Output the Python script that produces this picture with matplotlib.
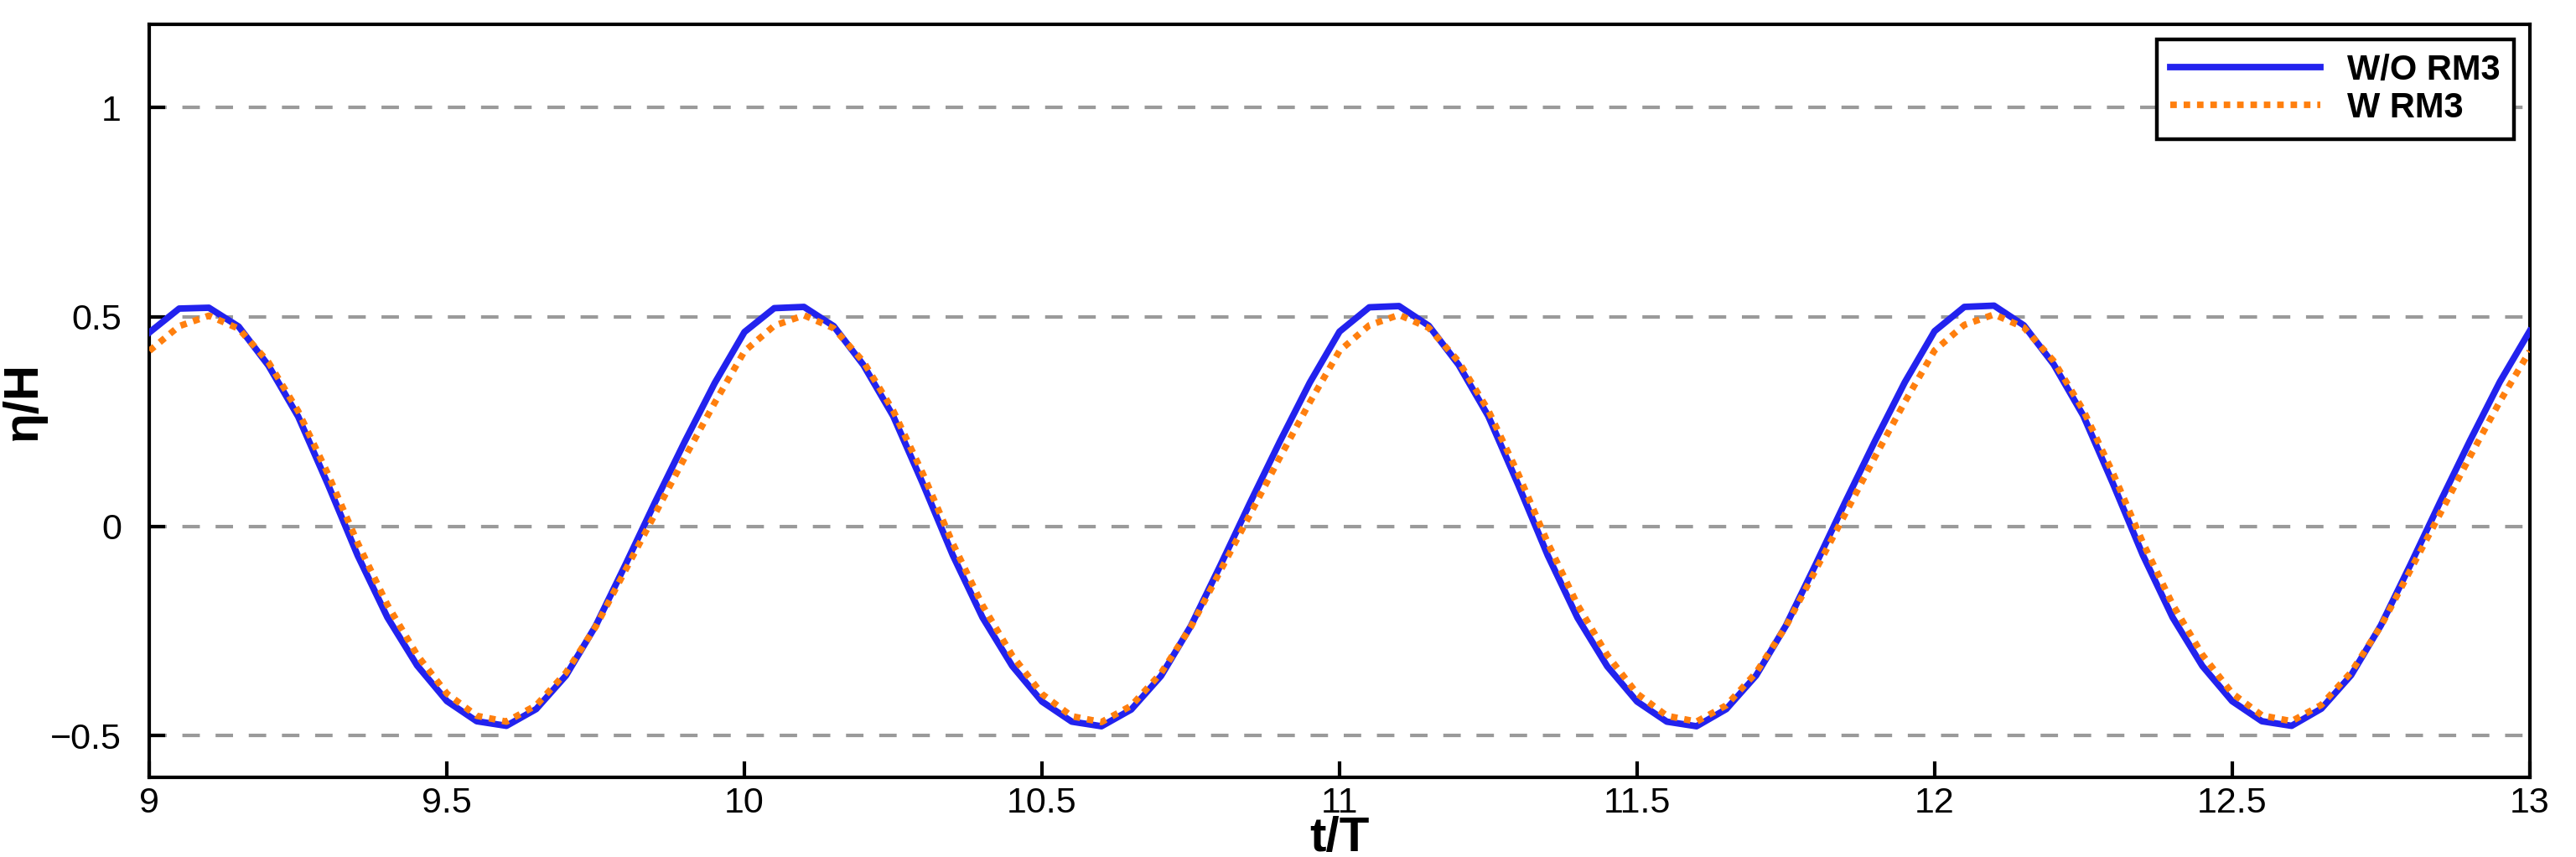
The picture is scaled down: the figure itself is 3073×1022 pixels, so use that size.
import numpy as np
import matplotlib.pyplot as plt

plt.rcParams['font.family'] = ['Liberation Sans', 'DejaVu Sans']

# time in wave periods, sampled every 0.05 T
t = np.round(np.arange(9.0, 13.0001, 0.05), 2)

# eta/H without the RM3 device
eta_wo = [
    0.463, 0.520, 0.522, 0.477, 0.384, 0.262, 0.100, -0.070, -0.218, -0.333,
    -0.418, -0.466, -0.477, -0.437, -0.357, -0.238, -0.092, 0.058, 0.203, 0.342,
    0.464, 0.521, 0.524, 0.478, 0.385, 0.263, 0.101, -0.069, -0.218, -0.334,
    -0.419, -0.467, -0.478, -0.438, -0.358, -0.239, -0.093, 0.057, 0.203, 0.343,
    0.465, 0.523, 0.526, 0.479, 0.386, 0.263, 0.100, -0.070, -0.219, -0.335,
    -0.419, -0.467, -0.478, -0.437, -0.357, -0.238, -0.092, 0.058, 0.204, 0.344,
    0.466, 0.524, 0.527, 0.480, 0.387, 0.264, 0.101, -0.069, -0.218, -0.334,
    -0.418, -0.466, -0.477, -0.436, -0.356, -0.237, -0.091, 0.059, 0.205, 0.345,
    0.466,
]

# eta/H with the RM3 device
eta_w = [
    0.419, 0.478, 0.503, 0.472, 0.392, 0.275, 0.125, -0.040, -0.188, -0.308,
    -0.400, -0.453, -0.467, -0.428, -0.350, -0.240, -0.105, 0.030, 0.165, 0.295,
    0.418, 0.479, 0.504, 0.473, 0.393, 0.276, 0.125, -0.041, -0.189, -0.309,
    -0.401, -0.454, -0.468, -0.429, -0.351, -0.241, -0.106, 0.029, 0.165, 0.296,
    0.419, 0.480, 0.505, 0.474, 0.394, 0.277, 0.126, -0.040, -0.188, -0.308,
    -0.400, -0.453, -0.467, -0.428, -0.350, -0.240, -0.105, 0.030, 0.166, 0.297,
    0.420, 0.481, 0.506, 0.475, 0.395, 0.277, 0.126, -0.039, -0.187, -0.307,
    -0.399, -0.452, -0.466, -0.427, -0.349, -0.239, -0.104, 0.031, 0.167, 0.298,
    0.418,
]

labels = ['W/O RM3', 'W RM3']
xticks = [9, 9.5, 10, 10.5, 11, 11.5, 12, 12.5, 13]
xticklabels = ['9', '9.5', '10', '10.5', '11', '11.5', '12', '12.5', '13']
yticks = [-0.5, 0, 0.5, 1]
yticklabels = ['\u22120.5', '0', '0.5', '1']

fig = plt.figure(figsize=(15.365, 5.11), dpi=200)
ax = fig.add_axes([0.058, 0.093, 0.924, 0.879])

for y in yticks:
    ax.axhline(y, color='#9a9a9a', lw=1.5, ls=(0, (5, 4.5)), zorder=1)

ax.plot(t, eta_wo, color='#2222ee', lw=2.8, label=labels[0], zorder=3)
ax.plot(t, eta_w, color='#ff7f0e', lw=2.8, ls=(0, (1, 1.05)), label=labels[1], zorder=4)

ax.set_xlim(9, 13)
ax.set_ylim(-0.6, 1.2)
ax.set_xticks(xticks)
ax.set_xticklabels(xticklabels)
ax.set_yticks(yticks)
ax.set_yticklabels(yticklabels)
ax.tick_params(direction='in', length=7, width=1.5, labelsize=15.5)
ax.tick_params(axis='x', pad=4)
ax.tick_params(axis='y', pad=12)

for s in ax.spines.values():
    s.set_linewidth(1.5)

ax.set_xlabel('t/T', fontsize=21, fontweight='bold', labelpad=-2)
ax.set_ylabel('\u03b7/H', fontsize=21, fontweight='bold', labelpad=2)

leg = ax.legend(loc='upper right', handlelength=4.3, handletextpad=0.75,
                fancybox=False, framealpha=1, edgecolor='black',
                borderaxespad=0.45, borderpad=0.4, labelspacing=0.12,
                prop={'weight': 'bold', 'size': 15})
leg.get_frame().set_linewidth(1.6)

fig.savefig('out.png', dpi=200)
